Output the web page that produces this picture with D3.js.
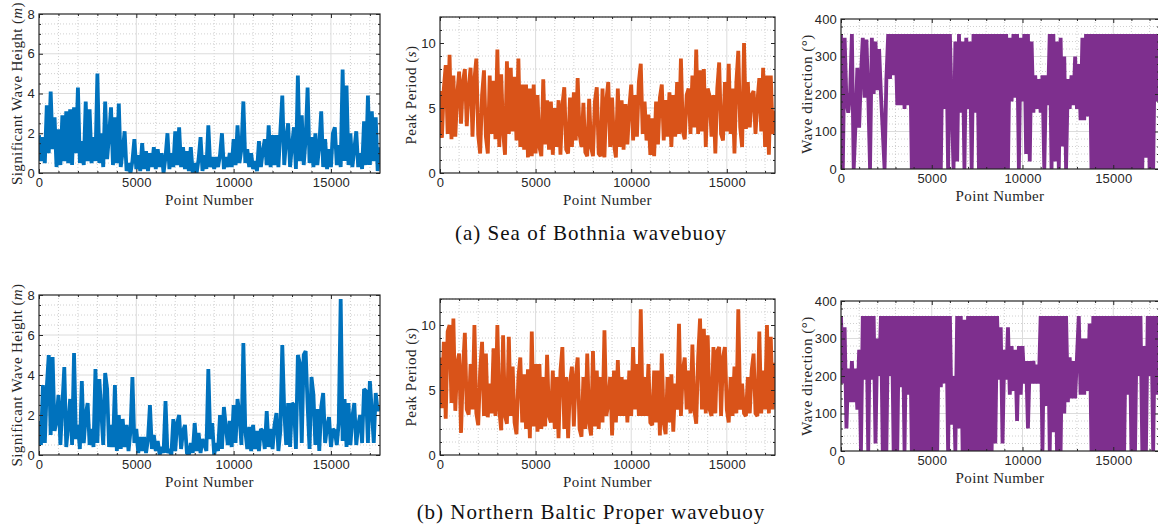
<!DOCTYPE html>
<html>
<head>
<meta charset="utf-8">
<script src="https://cdn.jsdelivr.net/npm/d3@7"></script>
<style>
  body { margin: 0; background: #fff; }
  svg { display: block; font-family: "Liberation Serif", "DejaVu Serif", serif; }
</style>
</head>
<body>
<svg id="chart" width="1158" height="530"></svg>
<script>
// sample spacing (point numbers) between the values
const pointStep = 100;
const xMax = 17520;
const xTicks = [0, 5000, 10000, 15000];

// Sea of Bothnia
const bothniaHs = [1.9,0.6,1.8,0.5,3.4,1.0,4.1,1.2,2.8,0.3,2.2,0.4,2.9,0.6,3.1,0.5,3.2,0.4,3.3,1.0,
  4.3,0.5,1.6,0.4,3.6,0.6,3.2,0.5,1.8,0.6,5.0,0.5,2.0,0.3,3.6,0.7,1.9,3.3,0.4,2.8,
  0.5,3.5,0.3,1.1,2.1,0.1,0.5,0.0,0.6,1.7,0.2,0.9,0.1,1.5,0.2,1.1,0.1,1.0,0.3,1.3,
  0.2,1.2,0.3,1.0,0.0,0.8,2.0,0.2,1.0,0.3,2.1,0.4,2.3,0.3,1.3,0.2,1.1,0.1,1.3,0.0,
  0.5,0.0,0.7,1.8,0.1,0.9,0.2,2.4,0.3,0.8,0.2,0.8,0.3,0.9,2.0,0.2,0.8,0.3,1.0,0.3,
  1.7,0.4,2.4,0.5,1.2,3.6,0.5,1.2,0.3,1.0,0.2,0.6,0.1,1.6,0.3,1.1,1.7,0.4,2.4,0.3,
  1.9,0.4,1.9,0.3,2.1,3.9,0.4,1.7,2.5,0.3,1.4,2.3,0.2,4.9,0.6,2.9,0.4,1.7,4.3,0.5,
  1.8,0.3,2.0,0.4,1.4,3.1,0.3,1.7,0.2,1.2,0.3,2.0,2.3,0.4,1.4,0.3,5.2,0.6,4.4,0.4,
  2.0,0.3,1.2,2.1,0.3,1.0,0.2,2.6,0.4,3.9,0.4,3.1,0.6,2.8,0.1,1.3];
const bothniaTp = [6.3,2.7,6.5,8.3,3.0,9.1,2.6,7.5,2.8,6.0,7.8,3.8,7.0,8.0,3.6,6.5,8.1,2.8,7.2,8.8,
  2.9,1.5,6.0,7.9,2.8,1.5,7.5,3.0,7.1,2.6,9.5,2.0,7.6,3.2,1.4,8.6,3.0,8.1,3.2,7.4,
  2.5,8.8,2.0,6.8,1.8,6.8,1.2,6.5,1.3,6.8,1.5,6.0,2.0,1.3,7.2,2.2,5.6,1.8,5.5,1.4,
  5.0,2.0,5.6,1.4,5.2,6.6,1.8,1.5,5.8,2.0,6.2,2.5,7.3,3.0,2.0,5.4,1.6,1.3,5.7,2.0,
  1.3,5.5,6.6,1.5,1.3,6.5,1.2,5.6,7.0,2.0,5.8,2.2,1.2,6.5,2.0,5.6,1.8,5.3,2.2,5.0,
  6.8,2.5,6.0,2.8,7.0,8.4,3.0,5.5,2.5,4.5,1.4,4.2,1.3,5.5,2.2,5.8,6.8,2.5,5.6,2.8,
  6.2,2.0,6.0,2.8,7.0,3.0,8.8,3.2,2.6,6.0,6.5,3.0,7.5,3.5,9.5,3.0,7.9,3.2,8.0,2.0,
  6.5,5.9,2.8,6.0,1.5,6.5,8.5,3.0,2.5,7.0,3.2,8.4,3.0,6.5,1.5,7.0,9.4,3.5,2.0,10.0,
  3.4,7.0,3.5,6.0,6.3,3.0,5.5,7.3,3.2,8.1,2.0,7.5,1.4,7.5,3.0,4.8];
const bothniaDir = [360,0,350,180,150,200,360,0,120,270,110,250,350,190,345,200,0,350,200,340,
  210,320,200,100,0,240,360,240,360,250,360,170,360,170,360,160,360,170,360,0,
  360,0,360,0,360,0,360,0,360,0,360,0,360,0,360,0,360,160,360,0,
  360,170,0,340,20,360,150,340,0,350,160,340,0,360,150,360,0,360,0,360,
  0,360,0,360,0,360,0,360,0,360,0,360,0,350,180,360,190,360,0,350,
  180,360,40,360,20,340,150,250,160,240,150,250,0,250,170,360,0,360,20,340,
  0,350,60,300,0,240,160,250,170,300,160,280,130,350,130,360,140,360,0,360,
  0,360,0,360,0,360,0,360,0,360,0,360,0,360,0,360,0,360,0,360,
  0,360,0,360,0,360,0,360,30,360,0,360,0,360,180,360];

// Northern Baltic Proper
const balticHs = [1.7,0.5,3.5,0.6,3.4,5.0,1.0,4.9,1.2,1.7,3.0,0.5,2.5,4.4,0.4,1.5,2.8,0.5,5.1,0.8,
  1.5,0.3,3.7,0.6,2.0,2.6,0.5,1.3,0.4,4.3,0.6,3.8,2.2,0.5,4.1,3.3,0.4,1.5,0.4,3.5,
  0.2,2.0,0.3,1.8,0.4,1.5,0.2,1.2,3.9,0.6,1.3,0.1,0.9,0.2,0.9,0.1,0.8,2.5,0.3,1.0,
  0.2,0.7,0.0,0.4,0.1,2.7,0.1,0.3,0.0,1.8,0.2,1.6,2.0,0.3,1.2,1.5,0.1,0.0,0.6,0.1,
  1.6,0.2,1.1,0.1,0.8,0.5,0.2,4.3,0.8,1.6,0.0,0.6,0.2,2.0,0.3,2.4,1.4,0.5,1.7,0.4,
  2.5,0.6,2.8,2.0,0.5,5.6,1.2,0.3,1.4,0.2,1.5,0.3,1.2,0.2,1.3,1.2,0.3,2.2,0.4,1.3,
  0.3,1.5,2.1,0.2,1.2,5.5,2.2,0.5,2.6,0.4,2.6,2.5,0.3,5.0,4.6,0.6,5.0,5.2,2.5,0.3,
  3.9,3.0,0.5,2.3,0.2,2.4,3.1,0.6,1.4,1.9,0.4,1.3,1.2,0.5,1.6,7.8,0.7,2.8,0.4,2.6,
  0.5,1.9,2.6,0.5,1.5,2.0,0.6,3.3,3.2,0.6,3.7,2.2,0.6,3.1,2.2,2.5];
const balticTp = [7.5,3.6,8.7,2.8,9.5,10.0,4.0,10.5,3.4,7.0,7.8,1.7,6.5,9.4,3.5,3.1,7.0,3.5,10.0,3.2,
  2.3,6.5,8.7,3.0,7.8,2.9,5.5,3.2,8.2,3.0,10.0,3.5,1.9,9.2,3.0,2.4,9.1,3.0,6.8,2.5,
  1.6,6.0,7.5,2.5,6.2,2.0,6.6,1.3,9.5,2.2,7.0,1.8,7.0,2.0,6.0,2.2,7.7,3.0,2.5,6.5,
  2.0,6.0,1.3,6.5,8.3,2.0,6.0,1.3,5.5,6.8,2.2,6.0,7.5,2.0,1.4,6.0,2.0,7.8,2.5,1.5,
  8.0,2.2,6.5,2.0,6.0,2.5,9.6,3.0,4.0,6.0,1.5,6.5,2.5,7.3,3.0,6.0,3.0,5.8,2.5,6.5,
  3.0,8.3,3.5,7.0,3.0,11.2,3.0,6.0,3.0,7.0,2.5,2.3,6.5,2.5,6.5,1.5,7.8,2.5,1.6,6.0,
  2.5,6.2,1.8,5.5,3.5,10.1,3.0,6.5,7.5,3.5,6.5,3.2,8.5,3.5,2.4,7.5,10.5,3.5,9.7,3.2,
  9.2,3.5,3.0,8.3,3.2,8.0,8.3,3.0,7.5,8.3,3.5,2.5,6.0,3.0,6.8,3.2,11.2,3.5,5.5,3.2,
  3.0,6.0,3.2,6.5,7.8,3.2,3.0,9.5,3.2,6.5,3.5,10.0,3.2,9.1,3.5,7.1];
const balticDir = [360,180,330,60,220,130,240,130,220,110,270,0,360,190,360,0,360,190,360,20,
  300,200,360,0,360,0,360,200,360,0,360,0,360,170,360,0,360,150,360,0,
  360,0,360,0,360,0,360,0,360,0,360,0,360,0,360,170,360,180,360,0,
  360,70,200,0,360,60,360,0,350,0,360,0,360,0,360,0,360,0,360,0,
  360,0,360,0,360,20,360,190,330,20,270,190,330,150,280,160,270,80,280,150,
  280,180,240,60,240,180,240,180,230,180,360,0,360,120,360,0,360,50,360,0,
  360,0,360,100,360,130,250,140,240,140,250,360,150,300,150,300,160,340,0,360,
  0,360,0,360,0,360,0,360,0,360,0,360,0,360,0,360,0,360,150,360,
  0,360,0,360,200,360,0,280,0,360,200,360,0,360,150,360];

const hsTicks = [0, 2, 4, 6, 8];
const tpTicks = [0, 5, 10];
const dirTicks = [0, 100, 200, 300, 400];

const captions = ["(a) Sea of Bothnia wavebuoy", "(b) Northern Baltic Proper wavebuoy"];

const blue = "#0072BD", orange = "#D95319", purple = "#7E2F8E";
const axisColor = "#262626";

const svg = d3.select("#chart");

function drawPanel(p, id) {
  const w = p.right - p.left, h = p.bottom - p.top;
  const g = svg.append("g").attr("transform", `translate(${p.left},${p.top})`);

  const x = d3.scaleLinear().domain([0, xMax]).range([0, w]);
  const y = d3.scaleLinear().domain(p.yDomain).range([h, 0]);

  const xMinor = d3.range(0, xMax, 1000).filter(v => v % 5000 !== 0);
  const yMinor = d3.range(p.yDomain[0], p.yDomain[1] + 1e-9, p.yMinorStep)
    .filter(v => !p.yTicks.some(t => Math.abs(t - v) < 1e-9));

  // minor grid (dotted)
  const grid = g.append("g");
  grid.selectAll(".vmin").data(xMinor).enter().append("line")
    .attr("x1", d => x(d)).attr("x2", d => x(d)).attr("y1", 0).attr("y2", h)
    .attr("stroke", "#c4c4c4").attr("stroke-width", 0.8).attr("stroke-dasharray", "1,2");
  grid.selectAll(".hmin").data(yMinor).enter().append("line")
    .attr("x1", 0).attr("x2", w).attr("y1", d => y(d)).attr("y2", d => y(d))
    .attr("stroke", "#c4c4c4").attr("stroke-width", 0.8).attr("stroke-dasharray", "1,2");
  // major grid
  grid.selectAll(".vmaj").data(xTicks.slice(1)).enter().append("line")
    .attr("x1", d => x(d)).attr("x2", d => x(d)).attr("y1", 0).attr("y2", h)
    .attr("stroke", "#dcdcdc").attr("stroke-width", 1);
  grid.selectAll(".hmaj").data(p.yTicks.slice(1, -1)).enter().append("line")
    .attr("x1", 0).attr("x2", w).attr("y1", d => y(d)).attr("y2", d => y(d))
    .attr("stroke", "#dcdcdc").attr("stroke-width", 1);

  // data
  g.append("clipPath").attr("id", "clip" + id)
    .append("rect").attr("width", w).attr("height", h);
  const line = d3.line().x((d, i) => x(i * pointStep)).y(d => y(d));
  g.append("path").datum(p.values)
    .attr("clip-path", `url(#clip${id})`)
    .attr("d", line).attr("fill", "none")
    .attr("stroke", p.color).attr("stroke-width", 3.8)
    .attr("stroke-linejoin", "miter").attr("stroke-miterlimit", 2);

  // axes, ticks pointing inward
  const fmt = d3.format("d");
  const xa = g.append("g").attr("transform", `translate(0,${h})`)
    .call(d3.axisBottom(x).tickValues(xTicks).tickFormat(fmt).tickSizeInner(-4).tickSizeOuter(0).tickPadding(5));
  const ya = g.append("g")
    .call(d3.axisLeft(y).tickValues(p.yTicks).tickFormat(fmt).tickSizeInner(-4).tickSizeOuter(0).tickPadding(4));
  [xa, ya].forEach(a => {
    a.select(".domain").remove();
    a.selectAll(".tick line").attr("stroke", axisColor);
    a.selectAll(".tick text").attr("font-size", 13).attr("letter-spacing", 0.2).attr("fill", axisColor);
  });
  g.append("g").call(d3.axisTop(x).tickValues(xTicks).tickFormat("").tickSizeInner(-4).tickSizeOuter(0))
    .call(a => a.select(".domain").remove()).selectAll("line").attr("stroke", axisColor);
  g.append("g").attr("transform", `translate(${w},0)`)
    .call(d3.axisRight(y).tickValues(p.yTicks).tickFormat("").tickSizeInner(-4).tickSizeOuter(0))
    .call(a => a.select(".domain").remove()).selectAll("line").attr("stroke", axisColor);
  // minor ticks on all four sides
  [[d3.axisBottom(x), `translate(0,${h})`, xMinor], [d3.axisTop(x), null, xMinor],
   [d3.axisLeft(y), null, yMinor], [d3.axisRight(y), `translate(${w},0)`, yMinor]].forEach(([ax, tr, vals]) => {
    const a = g.append("g").call(ax.tickValues(vals).tickFormat("").tickSizeInner(-2).tickSizeOuter(0));
    if (tr) a.attr("transform", tr);
    a.select(".domain").remove();
    a.selectAll("line").attr("stroke", axisColor);
  });

  g.append("rect").attr("width", w).attr("height", h)
    .attr("fill", "none").attr("stroke", axisColor).attr("stroke-width", 1.2);

  // labels
  g.append("text").attr("x", w / 2).attr("y", h + 32)
    .attr("text-anchor", "middle").attr("font-size", 15).attr("letter-spacing", 0.35).attr("fill", axisColor)
    .text("Point Number");
  const yl = g.append("text")
    .attr("transform", `translate(${p.yLabelX},${h / 2}) rotate(-90)`)
    .attr("text-anchor", "middle").attr("font-size", 15).attr("letter-spacing", p.yLabelSpacing)
    .attr("fill", axisColor);
  yl.append("tspan").text(p.yLabel[0]);
  yl.append("tspan").attr("font-style", "italic").text(p.yLabel[1]);
  yl.append("tspan").text(p.yLabel[2]);
}

const rows = [
  { top: 14, bottom: 173, hs: bothniaHs, tp: bothniaTp, dir: bothniaDir, tpTop: 17, dirTop: 19, dirBottom: 169 },
  { top: 295, bottom: 455, hs: balticHs, tp: balticTp, dir: balticDir, tpTop: 299, dirTop: 301, dirBottom: 451 }
];

rows.forEach((r, i) => {
  drawPanel({ left: 39, right: 380, top: r.top, bottom: r.bottom, yDomain: [0, 8], yTicks: hsTicks,
    yMinorStep: 0.5, values: r.hs, color: blue, yLabelX: -17, yLabelSpacing: 0.4,
    yLabel: ["Significant Wave Height (", "m", ")"] }, "hs" + i);
  drawPanel({ left: 440, right: 775, top: r.tpTop, bottom: r.bottom, yDomain: [0, 12], yTicks: tpTicks,
    yMinorStep: 1, values: r.tp, color: orange, yLabelX: -24, yLabelSpacing: 0.5,
    yLabel: ["Peak Period (", "s", ")"] }, "tp" + i);
  drawPanel({ left: 841, right: 1159, top: r.dirTop, bottom: r.dirBottom, yDomain: [0, 400], yTicks: dirTicks,
    yMinorStep: 20, values: r.dir, color: purple, yLabelX: -29, yLabelSpacing: 0.5,
    yLabel: ["Wave direction (", "", "°)"] }, "dir" + i);
});

svg.selectAll(".caption").data(captions).enter().append("text")
  .attr("x", 591).attr("y", (d, i) => i === 0 ? 240 : 519)
  .attr("text-anchor", "middle").attr("font-size", 21).attr("letter-spacing", 1.0).attr("fill", "#111")
  .text(d => d);
</script>
</body>
</html>
